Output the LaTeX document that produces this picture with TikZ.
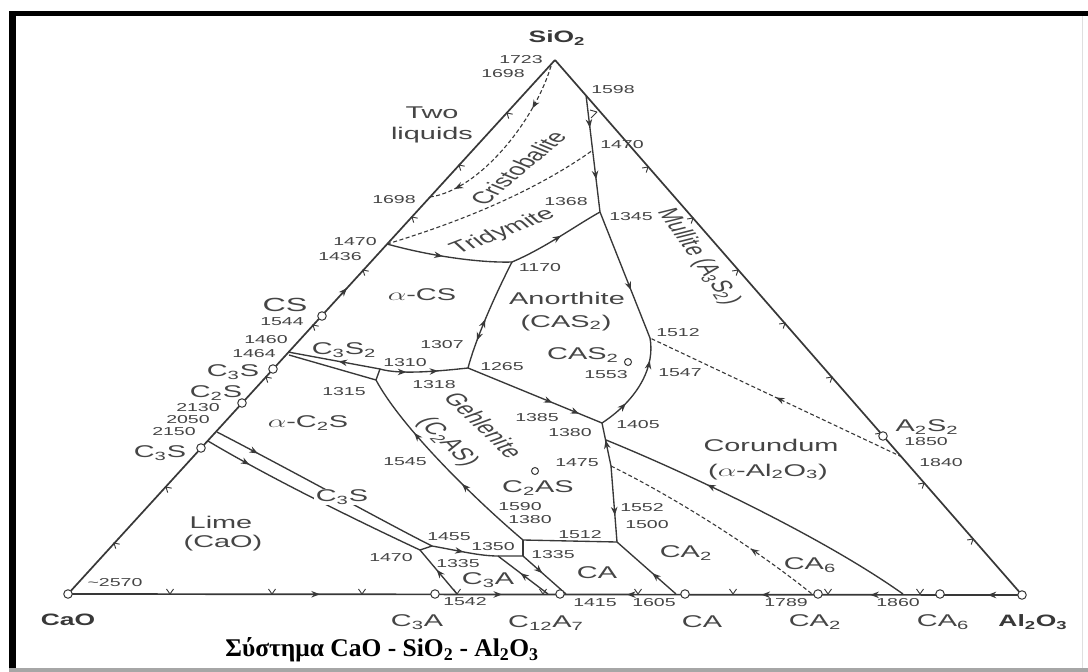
\documentclass[tikz,border=0pt]{standalone}
\usepackage{fontspec}
\setmainfont{Liberation Serif}
\setsansfont{Liberation Sans}
\usetikzlibrary{arrows.meta,decorations.markings,calc}
\definecolor{ink}{rgb}{0.22,0.22,0.22}
\definecolor{txt}{rgb}{0.27,0.27,0.27}
\newcommand\sub[1]{\textsubscript{#1}}
\tikzset{
  edge/.style={draw=ink, line width=1.7pt},
  bnd/.style={draw=ink, line width=1.35pt},
  dbnd/.style={draw=ink, line width=1.1pt, dash pattern=on 4pt off 2.5pt},
  tk/.style={draw=ink, line width=0.9pt},
  fwd/.style={postaction={decorate,decoration={markings,mark=at position #1 with {\arrow{Stealth[length=8.5pt,width=6.5pt]}}}}},
  bwd/.style={postaction={decorate,decoration={markings,mark=at position #1 with {\arrowreversed{Stealth[length=8.5pt,width=6.5pt]}}}}},
  num/.style={text=txt, font=\sffamily\fontsize{11.5}{11.5}\selectfont, xscale=1.7, inner sep=0pt},
  fld/.style={text=txt, font=\sffamily\fontsize{17}{17}\selectfont, xscale=1.7, inner sep=0pt},
  cor/.style={text=ink, font=\sffamily\bfseries\fontsize{16.5}{16.5}\selectfont, xscale=1.6, inner sep=0pt},
  cmp/.style={draw=ink, fill=white, circle, line width=1pt, minimum size=8.5pt, inner sep=0pt},
}
% V-shaped tick marks on the three joins
\newcommand\tb[2]{\draw[tk] (#1,#2) ++(-3.5,-5) -- ++(3.5,5) -- ++(3.5,-5);}
\newcommand\tl[2]{\draw[tk] (#1,#2) ++(5.7,1.2) -- ++(-5.7,-1.2) -- ++(1.7,5.6);}
\newcommand\tr[2]{\draw[tk] (#1,#2) ++(-1.8,5.6) -- ++(1.8,-5.6) -- ++(-5.8,1.0);}
\begin{document}
\begin{tikzpicture}[x=1pt,y=-1pt]
\useasboundingbox (0,0) rectangle (1088,672);
\fill[white] (0,0) rectangle (1088,672);

% frame
\fill[black] (9,11) rectangle (1088,16);
\fill[black] (9,11) rectangle (16,672);
\fill[gray!70] (9,668) rectangle (1088,672);
\draw[gray!25, line width=1pt] (1082,16) -- (1082,668);

% corners of the triangle
\coordinate (S) at (555,60);
\coordinate (C) at (68,594);
\coordinate (A) at (1022,595);

% points on the joins
\coordinate (e1698) at (430,197);
\coordinate (e1470) at (387,244);
\coordinate (e1460) at (288,352);
\coordinate (e1464) at (289,355);
\coordinate (eU) at (217,432);
\coordinate (eL) at (208,441);
\coordinate (r1598) at (586,95);
\coordinate (r1840) at (902,457);
\coordinate (dA) at (551,66);
\coordinate (b1542) at (457,594);
\coordinate (b1360) at (548,594);
\coordinate (b1415) at (566,594);
\coordinate (b1605) at (676,594);
\coordinate (b1789) at (812,594);
\coordinate (b1860) at (903,594);

% invariant points
\coordinate (p1170) at (512,262);
\coordinate (p1345) at (600,212);
\coordinate (dtop) at (593,150);
\coordinate (p1512) at (650,338);
\coordinate (p1310) at (380,369);
\coordinate (p1315) at (376,380);
\coordinate (p1265) at (468,368);
\coordinate (p1405) at (602,423);
\coordinate (p1380) at (606,440);
\coordinate (p1475) at (611,466);
\coordinate (p1512b) at (617,542);
\coordinate (q3) at (523,540);
\coordinate (q2) at (523,556);
\coordinate (q1) at (498,556);
\coordinate (p1455) at (432,546);
\coordinate (p1470) at (420,550);

% the joins
\draw[edge, fwd=0.573] (C) -- (S);
\draw[edge] (S) -- (A);
\draw[edge, fwd=0.264, fwd=0.455, bwd=0.586, bwd=0.727, bwd=0.841, bwd=0.964] (C) -- (A);

% silica field
\draw[dbnd, fwd=0.25, fwd=0.86] (dA) .. controls (535,120) and (480,190) .. (e1698);
\draw[dbnd] (e1470) .. controls (450,225) and (530,195) .. (dtop);
\draw[bnd, fwd=0.45] (e1470) .. controls (430,256) and (480,263) .. (p1170);
\draw[bnd, fwd=0.55] (p1170) .. controls (545,248) and (575,226) .. (p1345);
\draw[bnd, fwd=0.28, fwd=0.72] (r1598) -- (p1345);
\draw[tk] (590,110) -- (597,112) (591,118) -- (597,112);
\draw[bnd, fwd=0.62] (p1345) -- (p1512);
\draw[dbnd, fwd=0.5] (r1840) -- (p1512);

% anorthite and gehlenite fields
\draw[bnd, fwd=0.3, fwd=0.78] (p1405) .. controls (640,398) and (655,365) .. (p1512);
\draw[bnd, fwd=0.63, fwd=0.83] (p1265) -- (p1405);
\draw[bnd, fwd=0.3, fwd=0.66] (p1310) .. controls (400,375) and (440,371) .. (p1265);
\draw[bnd, bwd=0.55] (e1460) -- (p1310);
\draw[bnd] (e1464) -- (p1315);
\draw[bnd] (p1315) -- (p1310);
\draw[bnd, bwd=0.25, fwd=0.45] (p1265) .. controls (474,345) and (490,305) .. (p1170);
\draw[bnd, bwd=0.3, bwd=0.62] (p1315) .. controls (400,425) and (470,495) .. (q3);
\draw[bnd] (q3) -- (p1512b);
\draw[bnd] (q3) -- (q2);
\draw[bnd, bwd=0.4] (p1405) -- (p1475);
\draw[bnd, fwd=0.65] (p1475) -- (p1512b);

% alumina-rich side
\draw[bnd, bwd=0.33] (p1380) .. controls (680,470) and (820,535) .. (b1860);
\draw[dbnd, bwd=0.68] (p1475) .. controls (680,500) and (760,552) .. (b1789);
\draw[bnd, bwd=0.6] (p1512b) -- (b1605);
\draw[bnd, fwd=0.45] (q2) -- (b1415);
\draw[bnd, bwd=0.45] (q1) -- (b1360);

% lime-rich corner
\draw[bnd, fwd=0.19] (eU) .. controls (300,475) and (390,525) .. (p1455);
\draw[bnd, fwd=0.2] (eL) .. controls (270,478) and (360,522) .. (p1470);
\draw[bnd] (p1470) -- (p1455);
\draw[bnd, fwd=0.35] (p1455) .. controls (460,551) and (480,556) .. (q1) -- (q2);
\draw[bnd, fwd=0.55] (b1542) -- (p1470);

% tick marks
\tl{507}{113}\tl{459}{165}\tl{412}{217}\tl{363}{270}\tl{313}{325}\tl{266}{377}\tl{166}{487}\tl{114}{543}
\tr{648}{167}\tr{693}{218}\tr{738}{270}\tr{785}{323}\tr{832}{377}\tr{881}{433}\tr{924}{483}\tr{973}{539}
\tb{170}{594}\tb{272}{594}\tb{362}{594}\tb{457}{594}\tb{543}{594}\tb{638}{594}\tb{733}{594}\tb{828}{594}\tb{920}{594}

% compounds
\node[cmp] (cCaO) at (C) {};
\node[cmp] (cAl) at (A) {};
\node[cmp] (cC3Sl) at (201,448) {};
\node[cmp] (cC2S) at (242,403) {};
\node[cmp] (cC3S2) at (273,369) {};
\node[cmp] (cCS) at (322,316) {};
\node[cmp] (cA2S2) at (883,436) {};
\node[cmp] (cC3A) at (435,594) {};
\node[cmp] (cC12A7) at (560,594) {};
\node[cmp] (cCA) at (685,594) {};
\node[cmp] (cCA2) at (818,594) {};
\node[cmp] (cCA6) at (940,594) {};
\node[cmp, minimum size=7pt] (cC2AS) at (535,471) {};
\node[cmp, minimum size=7pt] (cCAS2) at (628,362) {};

% temperatures
\node[num] (n1723) at (521,60) {1723};
\node[num] (n1698a) at (503,74) {1698};
\node[num] (n1598) at (613,90) {1598};
\node[num] (n1470a) at (622,145) {1470};
\node[num] (n1698b) at (394,200) {1698};
\node[num] (n1368) at (566,202) {1368};
\node[num] (n1345) at (631,217) {1345};
\node[num] (n1470b) at (355,242) {1470};
\node[num] (n1436) at (340,257) {1436};
\node[num] (n1170) at (540,268) {1170};
\node[num] (n1544) at (282,322) {1544};
\node[num] (n1460) at (266,340) {1460};
\node[num] (n1464) at (254,354) {1464};
\node[num] (n2130) at (198,408) {2130};
\node[num] (n2050) at (188,420) {2050};
\node[num] (n2150) at (174,432) {2150};
\node[num] (n1310) at (405,363) {1310};
\node[num] (n1315) at (344,392) {1315};
\node[num] (n1318) at (434,385) {1318};
\node[num] (n1307) at (442,345) {1307};
\node[num] (n1265) at (502,367) {1265};
\node[num] (n1512a) at (678,333) {1512};
\node[num] (n1547) at (680,373) {1547};
\node[num] (n1553) at (606,375) {1553};
\node[num] (n1385) at (537,418) {1385};
\node[num] (n1380a) at (570,433) {1380};
\node[num] (n1405) at (638,425) {1405};
\node[num] (n1545) at (405,462) {1545};
\node[num] (n1475) at (577,463) {1475};
\node[num] (n1590) at (520,507) {1590};
\node[num] (n1380b) at (530,520) {1380};
\node[num] (n1512b) at (580,535) {1512};
\node[num] (n1552) at (642,508) {1552};
\node[num] (n1500) at (647,525) {1500};
\node[num] (n1455) at (449,537) {1455};
\node[num] (n1350) at (493,547) {1350};
\node[num] (n1470c) at (391,558) {1470};
\node[num] (n1335a) at (458,564) {1335};
\node[num] (n1335b) at (553,555) {1335};
\node[num] (n2570) at (115,583) {\textasciitilde2570};
\node[num] (n1542) at (465,602) {1542};
\node[num] (n1415) at (595,603) {1415};
\node[num] (n1605) at (654,603) {1605};
\node[num] (n1789) at (786,603) {1789};
\node[num] (n1860) at (898,603) {1860};
\node[num] (n1850) at (926,442) {1850};
\node[num] (n1840) at (941,463) {1840};

% primary phase fields
\node[fld] (fTwo) at (432,113) {Two};
\node[fld] (fliq) at (432,135) {liquids};
\node[fld, rotate=55] (fCri) at (518,168) {Cristobalite};
\node[fld, rotate=33] (fTri) at (503,232) {Tridymite};
\node[fld] (faCS) at (422,295) {$\alpha$-CS};
\node[fld] (fAn) at (567,298) {Anorthite};
\node[fld] (fAn2) at (566,323) {(CAS\sub{2})};
\node[fld] (fCAS2) at (583,355) {CAS\sub{2}};
\node[fld] (fC3S2) at (344,350) {C\sub{3}S\sub{2}};
\node[fld, rotate=-58] (fGeh) at (484,425) {Gehlenite};
\node[fld, rotate=-58] (fGeh2) at (447,442) {(C\sub{2}AS)};
\node[fld] (faC2S) at (308,423) {$\alpha$-C\sub{2}S};
\node[fld] (fC2AS) at (538,488) {C\sub{2}AS};
\node[fld, fill=white, inner sep=1pt] (fC3S) at (342,497) {C\sub{3}S};
\node[fld] (fLime) at (221,522) {Lime};
\node[fld] (fLime2) at (223,543) {(CaO)};
\node[fld] (fC3A) at (488,580) {C\sub{3}A};
\node[fld] (fCA) at (597,573) {CA};
\node[fld] (fCA2) at (686,553) {CA\sub{2}};
\node[fld] (fCA6) at (810,565) {CA\sub{6}};
\node[fld] (fCor) at (771,445) {Corundum};
\node[fld] (fCor2) at (768,472) {($\alpha$-Al\sub{2}O\sub{3})};
\node[fld, rotate=-67] (fMul) at (698,257) {Mullite (A\sub{3}S\sub{2})};

% compound names
\node[fld, font=\sffamily\fontsize{19}{19}\selectfont] (lCS) at (285,305) {CS};
\node[fld] (lC3S2) at (233,372) {C\sub{3}S};
\node[fld] (lC2S) at (216,393) {C\sub{2}S};
\node[fld] (lC3S) at (160,453) {C\sub{3}S};
\node[fld] (lA2S2) at (927,427) {A\sub{2}S\sub{2}};
\node[fld] (lC3A) at (417,622) {C\sub{3}A};
\node[fld] (lC12A7) at (546,623) {C\sub{12}A\sub{7}};
\node[fld] (lCA) at (702,622) {CA};
\node[fld] (lCA2) at (815,622) {CA\sub{2}};
\node[fld] (lCA6) at (943,622) {CA\sub{6}};
\node[cor] (lCaO) at (68,620) {CaO};
\node[cor] (lAl) at (1033,622) {Al\sub{2}O\sub{3}};
\node[cor] (lSi) at (557,38) {SiO\sub{2}};

% caption
\node[font=\bfseries\fontsize{25.5}{25.5}\selectfont, inner sep=0pt] (cap) at (382,650) {Σύστημα CaO - SiO\sub{2} - Al\sub{2}O\sub{3}};
\end{tikzpicture}
\end{document}
